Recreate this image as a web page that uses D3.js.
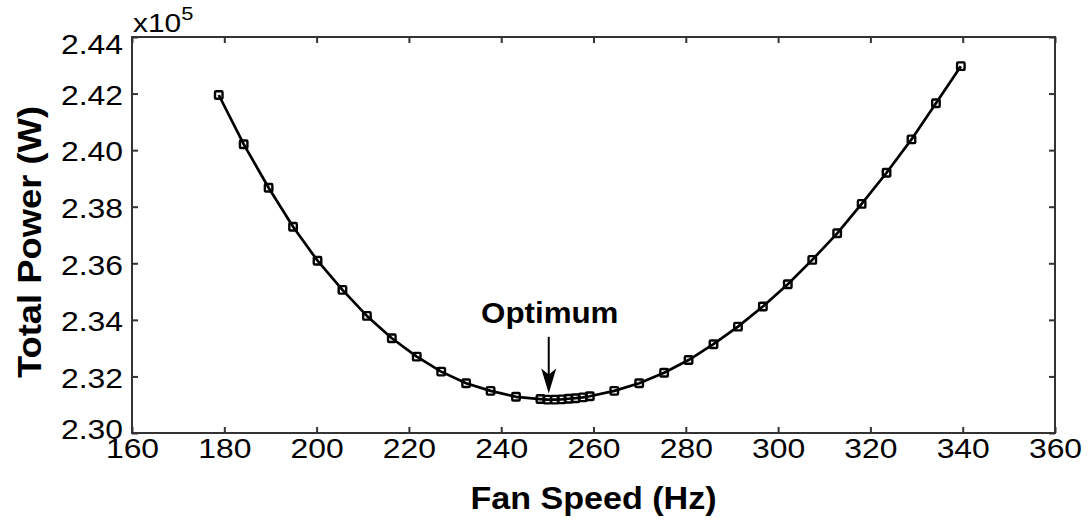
<!DOCTYPE html>
<html>
<head>
<meta charset="utf-8">
<script src="https://cdn.jsdelivr.net/npm/d3@7"></script>
<style>
  html, body { margin: 0; padding: 0; background: #fff; }
  svg { display: block; }
  text { font-family: "Liberation Sans", Arial, Helvetica, sans-serif; fill: #000; }
</style>
</head>
<body>
<svg id="chart" width="1090" height="522"></svg>
<script>
// ---- data ----
const fanSpeed = [178.8, 184.2, 189.6, 194.9, 200.2, 205.6, 210.9, 216.3, 221.7, 227.0,
  232.4, 237.7, 243.2, 248.5, 250.0, 251.6, 253.1, 254.6, 256.1, 257.7, 259.2,
  264.5, 269.9, 275.3, 280.6, 286.0, 291.3, 296.7, 302.1, 307.4, 312.8, 318.1,
  323.5, 328.9, 334.2, 339.6];
const totalPower = [2.4195, 2.4021, 2.3867, 2.3729, 2.3609, 2.3506, 2.3414, 2.3335, 2.3270, 2.3217,
  2.3176, 2.3149, 2.3128, 2.3120, 2.3118, 2.3118, 2.3119, 2.3121, 2.3123, 2.3126, 2.3130,
  2.3149, 2.3176, 2.3213, 2.3258, 2.3314, 2.3376, 2.3447, 2.3526, 2.3612, 2.3706, 2.3810,
  2.3920, 2.4038, 2.4166, 2.4297]; // in units of 10^5 W
const xTicks = [160, 180, 200, 220, 240, 260, 280, 300, 320, 340, 360];
const yTicks = [2.30, 2.32, 2.34, 2.36, 2.38, 2.40, 2.42, 2.44];
const xDomain = [160, 360];
const yDomain = [2.30, 2.44];
const optimumSpeed = 250.3;
const arrowFrom = 2.3340;
const arrowTo = 2.3140;
const optimumLabelY = 2.3389;
const xLabel = "Fan Speed (Hz)";
const yLabel = "Total Power (W)";
const optimumLabel = "Optimum";

// ---- layout ----
const margin = { left: 132, top: 37, right: 35, bottom: 89 };
const W = 1090, H = 522;
const iw = W - margin.left - margin.right;
const ih = H - margin.top - margin.bottom;
const SX = 1.18; // horizontal stretch of the original figure's text

const svg = d3.select("#chart");
const g = svg.append("g").attr("transform", `translate(${margin.left},${margin.top})`);

const x = d3.scaleLinear().domain(xDomain).range([0, iw]);
const y = d3.scaleLinear().domain(yDomain).range([ih, 0]);

const axisColor = "#333";
const tickLen = 6;

function styleAxis(sel) {
  sel.select(".domain").remove();
  sel.selectAll(".tick line").attr("stroke", axisColor).attr("stroke-width", 2);
}

// bottom
const gx = g.append("g").attr("transform", `translate(0,${ih})`)
  .call(d3.axisBottom(x).tickValues(xTicks).tickFormat(d3.format("d"))
    .tickSizeInner(-tickLen).tickSizeOuter(0).tickPadding(6));
styleAxis(gx);
gx.selectAll(".tick text").attr("font-size", 27)
  .attr("font-family", '"Liberation Sans", Arial, sans-serif')
  .attr("fill", "#000")
  .attr("transform", `scale(${SX},1)`);

// left
const gy = g.append("g")
  .call(d3.axisLeft(y).tickValues(yTicks).tickFormat(d3.format(".2f"))
    .tickSizeInner(-tickLen).tickSizeOuter(0).tickPadding(9));
styleAxis(gy);
gy.selectAll(".tick text").attr("font-size", 27)
  .attr("font-family", '"Liberation Sans", Arial, sans-serif')
  .attr("fill", "#000")
  .attr("x", -9 / SX)
  .attr("dy", d => d === yDomain[1] ? "0.62em" : (d === yDomain[0] ? "0.20em" : "0.40em"))
  .attr("transform", `scale(${SX},1)`);

// top
const gt = g.append("g")
  .call(d3.axisTop(x).tickValues(xTicks).tickFormat("").tickSizeInner(-tickLen).tickSizeOuter(0));
styleAxis(gt);
// right
const gr = g.append("g").attr("transform", `translate(${iw},0)`)
  .call(d3.axisRight(y).tickValues(yTicks).tickFormat("").tickSizeInner(-tickLen).tickSizeOuter(0));
styleAxis(gr);

// frame
g.append("rect").attr("x", 0).attr("y", 0).attr("width", iw).attr("height", ih)
  .attr("fill", "none").attr("stroke", axisColor).attr("stroke-width", 2);

// exponent label
const expo = g.append("text")
  .attr("transform", `translate(1,-5) scale(1.15,1)`)
  .attr("font-size", 26);
expo.append("tspan").text("x10");
expo.append("tspan").attr("font-size", 19).attr("dy", -12).text("5");

// line
const pts = fanSpeed.map((v, i) => [v, totalPower[i]]);
g.append("path").datum(pts)
  .attr("fill", "none").attr("stroke", "#000").attr("stroke-width", 2.7)
  .attr("stroke-linejoin", "round")
  .attr("d", d3.line().x(d => x(d[0])).y(d => y(d[1])));

// markers
const ms = 7.5;
g.selectAll("rect.mk").data(pts).join("rect").attr("class", "mk")
  .attr("x", d => x(d[0]) - ms / 2).attr("y", d => y(d[1]) - ms / 2)
  .attr("width", ms).attr("height", ms).attr("rx", 1)
  .attr("fill", "none").attr("stroke", "#000").attr("stroke-width", 2.4);

// annotation arrow
const ax = x(optimumSpeed), ay0 = y(arrowFrom), ay1 = y(arrowTo);
g.append("line").attr("x1", ax).attr("x2", ax).attr("y1", ay0).attr("y2", ay1 - 12)
  .attr("stroke", "#000").attr("stroke-width", 2);
g.append("path")
  .attr("d", `M${ax},${ay1} L${ax - 7.5},${ay1 - 25} L${ax},${ay1 - 19} L${ax + 7.5},${ay1 - 25} Z`)
  .attr("fill", "#000");

g.append("text")
  .attr("transform", `translate(${ax + 1},${y(optimumLabelY)}) scale(1.08,1)`)
  .attr("text-anchor", "middle").attr("font-weight", "bold").attr("font-size", 29)
  .text(optimumLabel);

// axis titles
svg.append("text")
  .attr("transform", `translate(${margin.left + iw / 2},${509}) scale(1.1,1)`)
  .attr("text-anchor", "middle").attr("font-weight", "bold").attr("font-size", 31)
  .text(xLabel);
svg.append("text")
  .attr("transform", `translate(${41},${242}) rotate(-90)`)
  .attr("text-anchor", "middle").attr("font-weight", "bold").attr("font-size", 33)
  .attr("textLength", 272).attr("lengthAdjust", "spacingAndGlyphs")
  .text(yLabel);
</script>
</body>
</html>
